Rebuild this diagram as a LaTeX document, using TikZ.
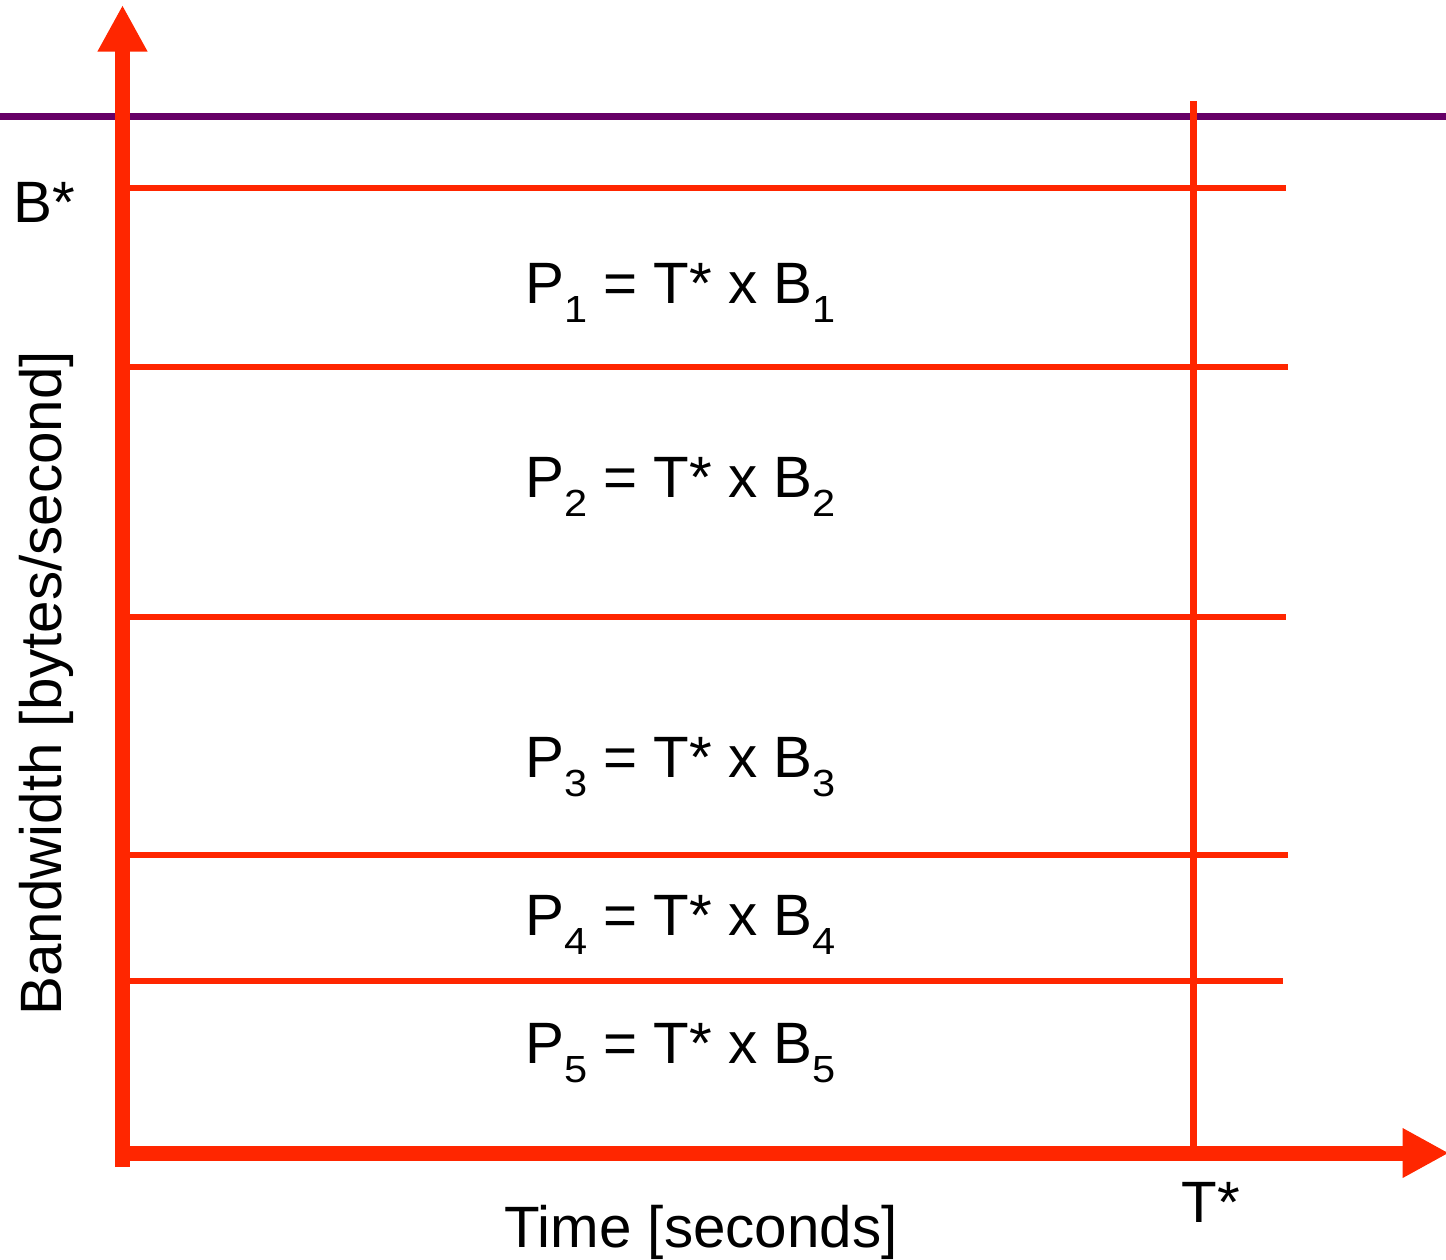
\documentclass[tikz,border=0pt]{standalone}
\usepackage{fontspec}
\setmainfont{Liberation Sans}
\usepackage{tikz}
\usetikzlibrary{positioning,calc,arrows.meta}
\usepackage{xcolor}
\definecolor{axred}{RGB}{255,38,0}
\definecolor{ceilpurple}{RGB}{102,0,102}
\newcommand{\psub}[1]{\raisebox{-0.38cm}{\scalebox{1.1}[1]{\fontsize{21.5}{24}\selectfont #1}}}

\begin{document}
\begin{tikzpicture}[
    x=0.02cm, y=-0.02cm,
    ax/.style={-{Triangle[length=0.93cm, width=0.93cm]}, line width=0.3cm, axred},
    band/.style={line width=0.13cm, axred},
    ceil/.style={line width=0.14cm, ceilpurple},
    txt/.style={font=\fontsize{33.2}{40}\selectfont, inner sep=0pt},
    Plbl/.style={txt, anchor=base west},
]
\useasboundingbox (0,0) rectangle (1446,1259);
% axes
\coordinate (yBot) at (122.5,1167);
\coordinate (yTop) at (122.5,5);
\coordinate (xLeft) at (115,1153);
\coordinate (xRight) at (1449,1153);
% purple ceiling
\coordinate (ceilL) at (0,116);
\coordinate (ceilR) at (1446,116);
\draw[ceil] (ceilL) -- (ceilR);
% band borders
\coordinate (b0L) at (122,188);  \coordinate (b0R) at (1286,188);
\coordinate (b1L) at (122,367);  \coordinate (b1R) at (1288,367);
\coordinate (b2L) at (122,617);  \coordinate (b2R) at (1286,617);
\coordinate (b3L) at (122,855);  \coordinate (b3R) at (1288,855);
\coordinate (b4L) at (122,981);  \coordinate (b4R) at (1283,981);
\draw[band] (b0L) -- (b0R);
\draw[band] (b1L) -- (b1R);
\draw[band] (b2L) -- (b2R);
\draw[band] (b3L) -- (b3R);
\draw[band] (b4L) -- (b4R);
% T* limit
\coordinate (tTop) at (1193,101);
\coordinate (tBot) at (1193,1148);
\draw[band, line width=0.14cm] (tTop) -- (tBot);
\draw[ax] (yBot) -- (yTop);
\draw[ax] (xLeft) -- (xRight);
% labels
\node[Plbl] (p1) at (525,303) {P\psub{1} = T* x B\psub{1}};
\node[Plbl] (p2) at (525,497) {P\psub{2} = T* x B\psub{2}};
\node[Plbl] (p3) at (525,777) {P\psub{3} = T* x B\psub{3}};
\node[Plbl] (p4) at (525,935) {P\psub{4} = T* x B\psub{4}};
\node[Plbl] (p5) at (525,1063) {P\psub{5} = T* x B\psub{5}};
\node[txt, anchor=base west] (bstar) at (13.5,222) {B*};
\node[txt, anchor=base west] (tstar) at (1181,1222) {T*};
\node[txt, anchor=base west] (xlbl) at (504,1247) {Time [seconds]};
\node[txt, anchor=base west, rotate=90] (ylbl) at (61,1016) {Bandwidth [bytes/second]};
\end{tikzpicture}
\end{document}
